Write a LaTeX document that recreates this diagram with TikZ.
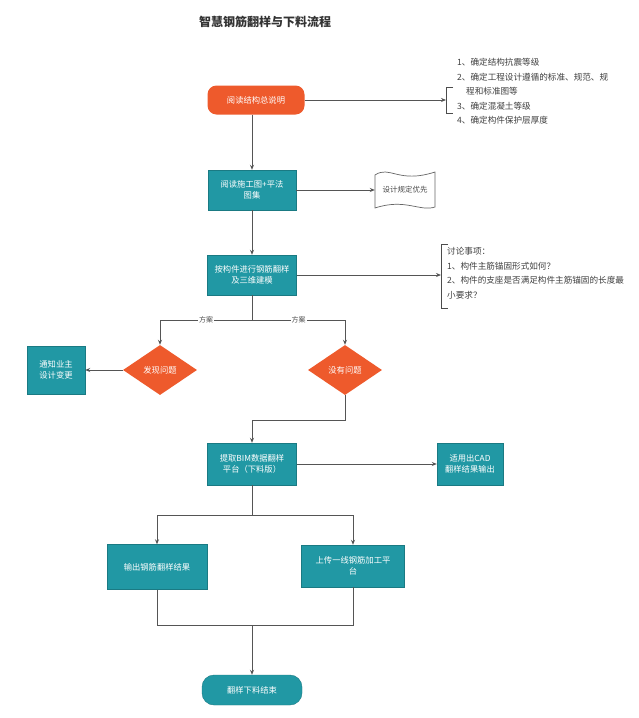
\documentclass[tikz,border=0pt]{standalone}
\usepackage{fontspec}
\setmainfont{Noto Sans CJK SC}
\usetikzlibrary{shapes.geometric,arrows.meta,positioning}
\definecolor{teal1}{HTML}{2198A4}
\definecolor{orange1}{HTML}{EE5A2C}
\definecolor{line1}{HTML}{555555}
\begin{document}
\begin{tikzpicture}[x=1pt,y=-1pt,
  tbox/.style={draw=teal1!80!black,fill=teal1,text=white,font=\fontsize{8.3}{11}\selectfont,align=center,inner sep=2pt},
  obox/.style={fill=orange1,text=white,font=\fontsize{8.3}{11}\selectfont,align=center},
  dmd/.style={diamond,fill=orange1,text=white,font=\fontsize{8.3}{11}\selectfont,minimum width=74pt,minimum height=50pt,inner sep=0pt},
  conn/.style={draw=line1,line width=0.8pt},
  arr/.style={conn,-{Stealth[length=5pt,width=4pt]}},
  note/.style={font=\fontsize{8.6}{14.6}\selectfont,align=left,text=black!75,inner sep=0pt,anchor=north west}]
\useasboundingbox (0,0) rectangle (638,718);
\fill[white] (0,0) rectangle (638,718);
\node[font=\bfseries\fontsize{12}{14}\selectfont,text=black!80] (title) at (265,22) {智慧钢筋翻样与下料流程};

\node[obox,rounded corners=9pt,minimum width=97pt,minimum height=29pt] (start) at (256,100) {阅读结构总说明};
\node[tbox,minimum width=88pt,minimum height=40pt] (b2) at (252,190) {阅读施工图+平法\\图集};
\node[tbox,minimum width=89pt,minimum height=40pt] (b3) at (252,275) {按构件进行钢筋翻样\\及三维建模};
\node[dmd] (dl) at (160,370) {发现问题};
\node[dmd] (dr) at (345,370) {没有问题};
\node[tbox,minimum width=58pt,minimum height=48pt] (bl) at (56,370) {通知业主\\设计变更};
\node[tbox,minimum width=89pt,minimum height=42pt] (b4) at (252,464) {提取BIM数据翻样\\平台（下料版）};
\node[tbox,minimum width=66pt,minimum height=42pt] (cad) at (470,464) {适用出CAD\\翻样结果输出};
\node[tbox,minimum width=100pt,minimum height=45pt] (b5) at (157,567) {输出钢筋翻样结果};
\node[tbox,minimum width=103pt,minimum height=42pt] (b6) at (353,566) {上传一线钢筋加工平\\台};
\node[tbox,rounded corners=12pt,minimum width=100pt,minimum height=30pt] (end) at (252,690) {翻样下料结束};

% document shape
\node[minimum width=60pt,minimum height=36pt,inner sep=0pt] (doc) at (405,190) {};
\draw[draw=black!60,line width=0.7pt,fill=white]
  (375,175) .. controls (390,165) and (398,184) .. (435,172) -- (435,207)
  .. controls (420,212) and (405,198) .. (375,208) -- cycle;
\node[font=\fontsize{7.5}{9}\selectfont,text=black!70] (doctext) at (405,190) {设计规定优先};

% notes
\node[note] (n1) at (457,58) {1、确定结构抗震等级\\2、确定工程设计遵循的标准、规范、规\\\hspace*{9pt}程和标准图等\\3、确定混凝土等级\\4、确定构件保护层厚度};
\coordinate (br1) at (446,100);
\draw[draw=black!70,line width=0.8pt] (453,87) -- (446,87) -- (446,113) -- (453,113);
\node[note] (n2) at (447,247) {讨论事项：\\1、构件主筋锚固形式如何？\\2、构件的支座是否满足构件主筋锚固的长度最\\小要求？};
\coordinate (br2) at (441,275);
\draw[draw=black!70,line width=0.8pt] (448,244) -- (441,244) -- (441,308) -- (448,308);

% connectors
\draw[arr] (start.south -| b2.north) -- (b2.north);
\draw[arr] (start.east) -- (br1);
\draw[arr] (b2) -- (b3);
\draw[arr] (b2.east) -- (doc.west);
\draw[arr] (b3.east) -- (br2);
\coordinate (j1) at (252,320);
\draw[conn] (b3.south) -- (j1);
\draw[arr] (j1) -| node[pos=0.25,fill=white,inner sep=1pt,font=\fontsize{7}{8}\selectfont,text=black!70] {方案} (dl.north);
\draw[arr] (j1) -| node[pos=0.25,fill=white,inner sep=1pt,font=\fontsize{7}{8}\selectfont,text=black!70] {方案} (dr.north);
\draw[arr] (dl.west) -- (bl.east);
\coordinate (j2) at (345,420);
\draw[arr] (dr.south) -- (j2) -| (b4.north);
\draw[arr] (b4.east) -- (cad.west);
\coordinate (j3) at (252,515);
\draw[conn] (b4.south) -- (j3);
\draw[arr] (j3) -| (b5.north);
\draw[arr] (j3) -| (b6.north);
\coordinate (j4) at (252,625);
\draw[conn] (b5.south) |- (j4);
\draw[conn] (b6.south) |- (j4);
\draw[arr] (j4) -- (end.north);
\end{tikzpicture}
\end{document}
